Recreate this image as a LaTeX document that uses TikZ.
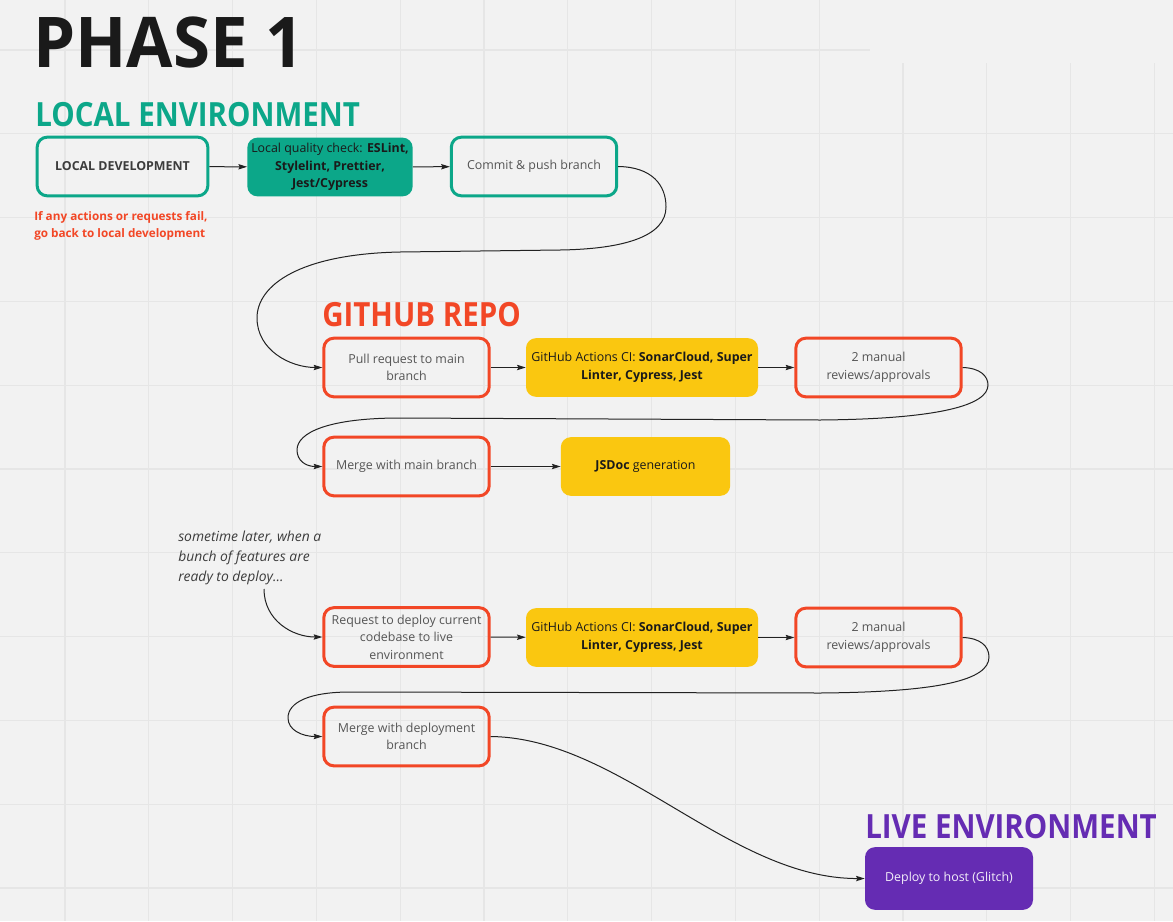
\documentclass[tikz,border=0pt]{standalone}
\usepackage{fontspec}
\setmainfont{Open Sans}
\newfontfamily\headfont[FakeStretch=0.885]{Open Sans}
\newfontfamily\titlefont[FakeStretch=0.96]{Open Sans}
\usetikzlibrary{arrows.meta}
\definecolor{bgc}{HTML}{F2F2F2}
\definecolor{gridc}{HTML}{E6E6E6}
\definecolor{tealc}{HTML}{0CA789}
\definecolor{redc}{HTML}{F24726}
\definecolor{yellowc}{HTML}{FAC710}
\definecolor{purplec}{HTML}{652CB3}
\definecolor{boxtext}{HTML}{555555}
\definecolor{darktext}{HTML}{1A1A1A}
\definecolor{linec}{HTML}{222222}
\begin{document}
\begin{tikzpicture}[x=0.75pt,y=-0.75pt,
  base/.style={rounded corners=7.5pt, minimum width=124pt, minimum height=44pt,
    align=center, inner sep=2pt, font=\fontsize{9.3}{13.2}\selectfont},
  tealbox/.style={base, draw=tealc, line width=2.25pt, text=boxtext},
  redbox/.style={base, draw=redc, line width=2.25pt, text=boxtext},
  tealfill/.style={base, fill=tealc, text=darktext},
  yellowfill/.style={base, fill=yellowc, text=darktext},
  purplefill/.style={base, fill=purplec, text=white!92!purplec},
  heading/.style={font=\headfont\fontsize{25}{30}\selectfont\bfseries, inner sep=0pt, anchor=base west},
  conn/.style={draw=linec, line width=0.75pt, -{Stealth[length=6.5pt,width=4pt,inset=1pt]}},
  gridline/.style={draw=gridc, line width=0.9pt}
]
\useasboundingbox (0,0) rectangle (1173,921);
\fill[bgc] (0,0) rectangle (1173,921);
% grid
\foreach \i in {0,...,9} {\draw[gridline] (65+83.8*\i,0) -- (65+83.8*\i,921);}
\foreach \i in {10,...,13} {\draw[gridline] (65+83.8*\i,63) -- (65+83.8*\i,921);}
\draw[gridline] (0,50) -- (870,50);
\foreach \j in {1,...,10} {\draw[gridline] (0,50+83.8*\j) -- (1173,50+83.8*\j);}

% headings
\node[heading, font=\titlefont\fontsize{52.5}{60}\selectfont\bfseries, text=darktext] (title) at (33,67) {PHASE 1};
\node[heading, text=tealc] (hlocal) at (35,126) {LOCAL ENVIRONMENT};
\node[heading, text=redc] (hgit) at (322,326) {GITHUB REPO};
\node[heading, text=purplec] (hlive) at (865,838) {LIVE ENVIRONMENT};

% row 1
\node[tealbox, minimum width=128pt, font=\fontsize{9.3}{12}\selectfont\bfseries, text=darktext!85] (ld) at (122.5,166.5) {LOCAL DEVELOPMENT};
\node[tealfill] (qc) at (330,167) {Local quality check: \textbf{ESLint,}\\\textbf{Stylelint, Prettier,}\\\textbf{Jest/Cypress}};
\node[tealbox] (commit) at (534,166.5) {Commit \& push branch};
\node[anchor=north west, inner sep=0pt, align=left, text=redc, font=\fontsize{8.8}{13.2}\selectfont\bfseries] (fail) at (34,211) {If any actions or requests fail,\\go back to local development};

% row 2
\node[redbox] (pr) at (406.5,367.5) {Pull request to main\\branch};
\node[yellowfill, minimum width=174pt] (ci1) at (642,367.5) {GitHub Actions CI: \textbf{SonarCloud, Super}\\\textbf{Linter, Cypress, Jest}};
\node[redbox] (rev1) at (878.5,367.5) {2 manual\\reviews/approvals};

% row 3
\node[redbox] (merge1) at (406.5,466.5) {Merge with main branch};
\node[yellowfill, minimum width=127pt] (jsdoc) at (645.5,466.5) {\textbf{JSDoc} generation};

% note
\node[anchor=north west, inner sep=0pt, align=left, text=darktext!85, font=\fontsize{10.4}{15}\selectfont\itshape] (note) at (178,531) {sometime later, when a\\bunch of features are\\ready to deploy...};
\coordinate (notefoot) at (264,589);

% row 4
\node[redbox] (req) at (406.5,637) {Request to deploy current\\codebase to live\\environment};
\node[yellowfill, minimum width=174pt] (ci2) at (642,637.5) {GitHub Actions CI: \textbf{SonarCloud, Super}\\\textbf{Linter, Cypress, Jest}};
\node[redbox] (rev2) at (878.5,637.5) {2 manual\\reviews/approvals};

% row 5
\node[redbox] (merge2) at (406.5,736.5) {Merge with deployment\\branch};
\node[purplefill, minimum width=126pt, minimum height=47pt] (deploy) at (949,878.5) {Deploy to host (Glitch)};

% connectors
\draw[conn] (ld) -- (qc);
\draw[conn] (qc) -- (commit);
\draw[conn] (commit.east) .. controls (652,167) and (666,185) .. (666,207)
  .. controls (666,236) and (625,249) .. (560,250) -- (400,252)
  .. controls (300,254) and (257,285) .. (257,318)
  .. controls (257,350) and (290,367.5) .. (pr.west);
\draw[conn] (pr) -- (ci1);
\draw[conn] (ci1) -- (rev1);
\draw[conn] (rev1.east) .. controls (980,368) and (988,376) .. (988,385)
  .. controls (988,405) and (940,419) .. (820,420) -- (400,418)
  .. controls (330,418) and (297,432) .. (297,450)
  .. controls (297,460) and (305,466.5) .. (merge1.west);
\draw[conn] (merge1) -- (jsdoc);
\draw[conn] (notefoot) .. controls (264,620) and (292,637) .. (req.west);
\draw[conn] (req) -- (ci2);
\draw[conn] (ci2) -- (rev2);
\draw[conn] (rev2.east) .. controls (980,638) and (989,646) .. (989,657)
  .. controls (989,680) and (940,692) .. (820,693) -- (350,692)
  .. controls (310,692) and (288,702) .. (288,718)
  .. controls (288,730) and (302,736.5) .. (merge2.west);
\draw[conn] (merge2.east) .. controls (620,738) and (730,879) .. (deploy.west);
\end{tikzpicture}
\end{document}
